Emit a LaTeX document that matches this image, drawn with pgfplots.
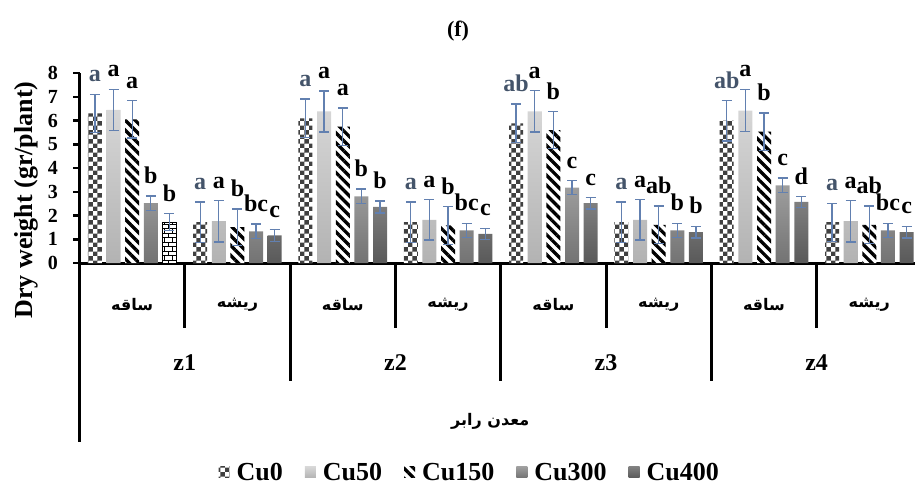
\documentclass[border=0pt]{standalone}
\usepackage{pgfplots}
\pgfplotsset{compat=1.18}
\usepackage{pgfplotstable}
\usetikzlibrary{patterns,patterns.meta}
\usepackage{fontspec}
\setmainfont{Liberation Serif}
\newfontfamily\arabicfont[Script=Arabic]{DejaVu Sans}
\TeXXeTstate=1
\definecolor{errblue}{RGB}{98,128,176}
\definecolor{slate}{RGB}{68,84,106}
\pgfdeclarepatternformonly{bigchecker}{\pgfpointorigin}{\pgfqpoint{9.4pt}{9.4pt}}{\pgfqpoint{9.4pt}{9.4pt}}{%
  \pgfpathrectangle{\pgfpointorigin}{\pgfqpoint{4.7pt}{4.7pt}}%
  \pgfpathrectangle{\pgfqpoint{4.7pt}{4.7pt}}{\pgfqpoint{4.7pt}{4.7pt}}%
  \pgfusepath{fill}}
\pgfdeclarepatternformonly{smallbricks}{\pgfqpoint{-1pt}{-1pt}}{\pgfqpoint{9pt}{10pt}}{\pgfqpoint{8pt}{9pt}}{%
  \pgfsetlinewidth{1pt}%
  \pgfpathmoveto{\pgfqpoint{-1pt}{0pt}}\pgfpathlineto{\pgfqpoint{9pt}{0pt}}%
  \pgfpathmoveto{\pgfqpoint{-1pt}{4.5pt}}\pgfpathlineto{\pgfqpoint{9pt}{4.5pt}}%
  \pgfpathmoveto{\pgfqpoint{0pt}{0pt}}\pgfpathlineto{\pgfqpoint{0pt}{4.5pt}}%
  \pgfpathmoveto{\pgfqpoint{4pt}{4.5pt}}\pgfpathlineto{\pgfqpoint{4pt}{9pt}}%
  \pgfusepath{stroke}}

\pgfplotstableread{
x v e l
0 6.30 0.80 a
1 1.72 0.85 a
2 6.09 0.81 a
3 1.72 0.85 a
4 5.88 0.82 ab
5 1.72 0.85 a
6 5.99 0.85 ab
7 1.72 0.80 a
}\cuzero
\pgfplotstableread{
x v e l
0 6.45 0.87 a
1 1.76 0.87 a
2 6.38 0.86 a
3 1.82 0.85 a
4 6.38 0.87 a
5 1.82 0.85 a
6 6.42 0.89 a
7 1.76 0.87 a
}\cufifty
\pgfplotstableread{
x v e l
0 6.05 0.79 a
1 1.51 0.77 b
2 5.74 0.79 a
3 1.58 0.79 b
4 5.60 0.77 b
5 1.61 0.79 ab
6 5.53 0.78 b
7 1.61 0.79 ab
}\cuonefifty
\pgfplotstableread{
x v e l
0 2.52 0.30 b
1 1.33 0.31 bc
2 2.81 0.30 b
3 1.37 0.30 bc
4 3.17 0.29 c
5 1.37 0.30 b
6 3.27 0.31 c
7 1.37 0.30 bc
}\cuthreehundred
\pgfplotstableread{
x v e l
0 1.72 0.35 b
1 1.16 0.24 c
2 2.36 0.25 b
3 1.23 0.23 c
4 2.52 0.24 c
5 1.30 0.25 b
6 2.57 0.22 d
7 1.30 0.25 c
}\cufourhundred

\begin{document}
\begin{tikzpicture}[x=1pt,y=1pt]
\useasboundingbox (0,0) rectangle (915,490);
\begin{axis}[
  at={(79.5pt,227pt)}, anchor=south west,
  scale only axis, width=835.5pt, height=190pt,
  xmin=-0.5, xmax=7.434, ymin=0, ymax=8,
  axis lines=left, axis line style={line width=3pt, -},
  ytick={0,1,2,3,4,5,6,7,8}, xtick=\empty,
  tick align=outside, major tick length=6pt,
  ytick style={line width=2.5pt, black},
  /pgf/number format/assume math mode=true,
  yticklabel style={font=\fontsize{20}{24}\selectfont\bfseries, xshift=-12pt},
  ybar, bar width=0.133,
  clip=false,
  error bars/y dir=both, error bars/y explicit,
  error bars/error bar style={errblue, line width=1.3pt},
  error bars/error mark options={rotate=90, errblue, mark size=5pt, line width=1.3pt},
  nodes near coords, point meta=explicit symbolic,
  visualization depends on={\thisrow{e} \as \myerr},
  every node near coord/.append style={anchor=south, inner sep=0pt, yshift=\myerr*23.75pt+12pt, font=\fontsize{24}{28}\selectfont\bfseries, text=black},
  legend style={at={(0.467,-1.105)}, anchor=center, draw=none, fill=none,
    legend columns=-1, font=\fontsize{26}{30}\selectfont\bfseries,
    /tikz/every odd column/.append style={column sep=5pt},
    /tikz/every even column/.append style={column sep=20pt}},
  legend image code/.code={\path[#1, draw=none] (0pt,-5pt) rectangle (11pt,6pt);},
]
\addplot[bar shift=-0.354, draw=none, fill=white, postaction={pattern=bigchecker, pattern color=black!75},
  every node near coord/.append style={text=slate}]
  table[x=x, y=v, y error=e, meta=l] {\cuzero};
\addlegendentry{Cu0}
\addplot[bar shift=-0.177, draw=none, top color=black!16, bottom color=black!30]
  table[x=x, y=v, y error=e, meta=l] {\cufifty};
\addlegendentry{Cu50}
\addplot[bar shift=0, draw=none, fill=white, postaction={pattern={Lines[angle=-45,distance=7pt,line width=3.3pt]}, pattern color=black}]
  table[x=x, y=v, y error=e, meta=l] {\cuonefifty};
\addlegendentry{Cu150}
\addplot[bar shift=0.177, draw=none, top color=black!38, bottom color=black!55]
  table[x=x, y=v, y error=e, meta=l] {\cuthreehundred};
\addlegendentry{Cu300}
\addplot[bar shift=0.354, draw=none, top color=black!50, bottom color=black!65, skip coords between index={0}{1}]
  table[x=x, y=v, y error=e, meta=l] {\cufourhundred};
\addlegendentry{Cu400}
\addplot[bar shift=0.354, draw=black, line width=1pt, fill=white, postaction={pattern=smallbricks, pattern color=black}, skip coords between index={1}{8}, forget plot]
  table[x=x, y=v, y error=e, meta=l] {\cufourhundred};

% category separators
\draw[line width=3pt] (axis cs:-0.5,0) -- ++(0pt,-179pt);
\draw[line width=3pt] (axis cs:0.5,0) -- ++(0pt,-65pt);
\draw[line width=3pt] (axis cs:2.5,0) -- ++(0pt,-65pt);
\draw[line width=3pt] (axis cs:4.5,0) -- ++(0pt,-65pt);
\draw[line width=3pt] (axis cs:6.5,0) -- ++(0pt,-65pt);
\draw[line width=3pt] (axis cs:1.5,0) -- ++(0pt,-118pt);
\draw[line width=3pt] (axis cs:3.5,0) -- ++(0pt,-118pt);
\draw[line width=3pt] (axis cs:5.5,0) -- ++(0pt,-118pt);
% category labels
\node at ([yshift=-42pt]axis cs:0,0) {\arabicfont\bfseries\fontsize{16}{20}\selectfont\beginR ساقه\endR};
\node at ([yshift=-42pt]axis cs:2,0) {\arabicfont\bfseries\fontsize{16}{20}\selectfont\beginR ساقه\endR};
\node at ([yshift=-42pt]axis cs:4,0) {\arabicfont\bfseries\fontsize{16}{20}\selectfont\beginR ساقه\endR};
\node at ([yshift=-42pt]axis cs:6,0) {\arabicfont\bfseries\fontsize{16}{20}\selectfont\beginR ساقه\endR};
\node at ([yshift=-42pt]axis cs:1,0) {\arabicfont\bfseries\fontsize{16}{20}\selectfont\beginR ريشه\endR};
\node at ([yshift=-42pt]axis cs:3,0) {\arabicfont\bfseries\fontsize{16}{20}\selectfont\beginR ريشه\endR};
\node at ([yshift=-42pt]axis cs:5,0) {\arabicfont\bfseries\fontsize{16}{20}\selectfont\beginR ريشه\endR};
\node at ([yshift=-42pt]axis cs:7,0) {\arabicfont\bfseries\fontsize{16}{20}\selectfont\beginR ريشه\endR};
\node[font=\fontsize{24}{28}\selectfont\bfseries] at ([yshift=-100pt]axis cs:0.5,0) {z1};
\node[font=\fontsize{24}{28}\selectfont\bfseries] at ([yshift=-100pt]axis cs:2.5,0) {z2};
\node[font=\fontsize{24}{28}\selectfont\bfseries] at ([yshift=-100pt]axis cs:4.5,0) {z3};
\node[font=\fontsize{24}{28}\selectfont\bfseries] at ([yshift=-100pt]axis cs:6.5,0) {z4};
\node at ([yshift=-158pt]axis cs:3.4,0) {\arabicfont\bfseries\fontsize{16}{20}\selectfont\beginR معدن رابر\endR};
\end{axis}
\node[font=\fontsize{22}{26}\selectfont\bfseries] at (458,459) {(f)};
\node[rotate=90, font=\fontsize{26}{30}\selectfont\bfseries] at (26,290) {Dry weight (gr/plant)};
\end{tikzpicture}
\end{document}
